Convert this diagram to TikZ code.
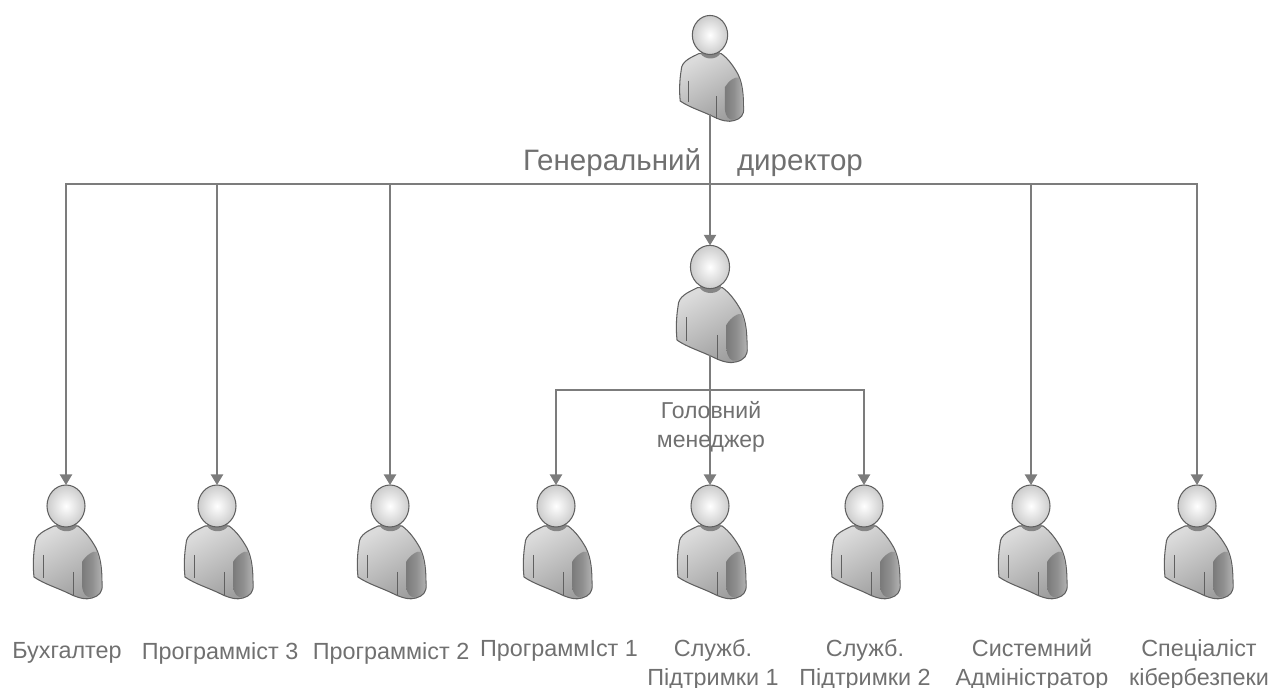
\documentclass[tikz,border=0pt]{standalone}
\usepackage{fontspec}
\setmainfont{Liberation Sans}
\usetikzlibrary{arrows.meta,shapes.geometric}
\definecolor{inkgray}{HTML}{707070}
\definecolor{linegray}{HTML}{7C7C7C}
\definecolor{edgegray}{HTML}{606060}
\tikzset{
	link/.style={draw=linegray,line width=0.65pt},
	head/.style={ellipse,draw=edgegray,line width=0.6pt,transform shape,minimum width=0.76cm,minimum height=0.84cm,inner sep=0pt,outer sep=0pt,inner color=white,outer color=black!20},
	label/.style={text=inkgray,align=center,font=\fontsize{13.3}{16.5}\selectfont},
	person/.pic={
		\draw[edgegray,line width=0.6pt,left color=black!14,right color=black!38,shading angle=30]
			(-12,20) .. controls (-20,24) and (-31,28) .. (-31,38) .. controls (-33,50) and (-33,62) .. (-32,71)
			.. controls (-22,78) and (-8,82) .. (4,88) .. controls (12,92) and (20,94) .. (26,92)
			.. controls (33,90) and (37,86) .. (36,78) .. controls (36,64) and (35,52) .. (30,42)
			.. controls (25,33) and (19,25) .. (12,20) -- cycle;
		\shade[left color=black!52,right color=black!30,middle color=black!44]
			(16,56) .. controls (20,49) and (28,44) .. (31,46) .. controls (35,56) and (35,66) .. (35.5,78)
			.. controls (36,86) and (32,89) .. (26,91) .. controls (20,92) and (17,88) .. (16,80) -- cycle;
		\fill[black!48] (-10,20) .. controls (-6,27) and (7,27) .. (11,20) -- (8,12) -- (-8,12) -- cycle;
		\draw[edgegray,line width=0.5pt] (-23,49) -- (-23,72) (7,66) -- (7,90);
	}
}
\begin{document}
\begin{tikzpicture}[>={Triangle[length=6pt,width=7pt]},x=0.02cm,y=-0.02cm]
	\useasboundingbox (0,0) rectangle (1274,688);
	% persons
	\foreach \name/\xx/\yy/\sc in {dir/710/35/0.93,mgr/710/267/1.03,buh/66/506/1,progc/217/506/1,progb/390/506/1,proga/556/506/1,supa/710/506/1,supb/864/506/1,adm/1031/506/1,sec/1197/506/1}{
		\pic[scale=\sc] at (\xx,\yy) {person};
		\node[head,scale=\sc] (\name) at (\xx,\yy) {};
		\coordinate (\name-foot) at (\xx,\yy+85*\sc);
	}
	% connectors
	\coordinate (bus) at (710,184);
	\coordinate (subbus) at (710,390);
	\draw[link,->] (dir-foot) -- (mgr.north);
	\foreach \name in {buh,progc,progb,adm,sec}
		\draw[link,->] (bus) -| (\name.north);
	\draw[link,->] (mgr-foot) -- (supa.north);
	\foreach \name in {proga,supb}
		\draw[link,->] (subbus) -| (\name.north);
	% labels
	\node[label,font=\fontsize{16.8}{20}\selectfont] (dirtext) at (693,163) {Генеральний\hspace{0.72cm}директор};
	\node[label,font=\fontsize{13.1}{16.5}\selectfont] (mgrtext) at (711,427) {Головний\\менеджер};
	\node[label] (buhtext) at (67,653) {Бухгалтер};
	\node[label] (progctext) at (220,653) {Программіст 3};
	\node[label] (progbtext) at (391,653) {Программіст 2};
	\node[label] (progatext) at (559,651) {ПрограммІст 1};
	\node[label] (supatext) at (713,665) {Служб.\\Підтримки 1};
	\node[label] (supbtext) at (865,665) {Служб.\\Підтримки 2};
	\node[label] (admtext) at (1032,665) {Системний\\Адміністратор};
	\node[label] (sectext) at (1199,665) {Спеціаліст\\кібербезпеки};
\end{tikzpicture}
\end{document}
